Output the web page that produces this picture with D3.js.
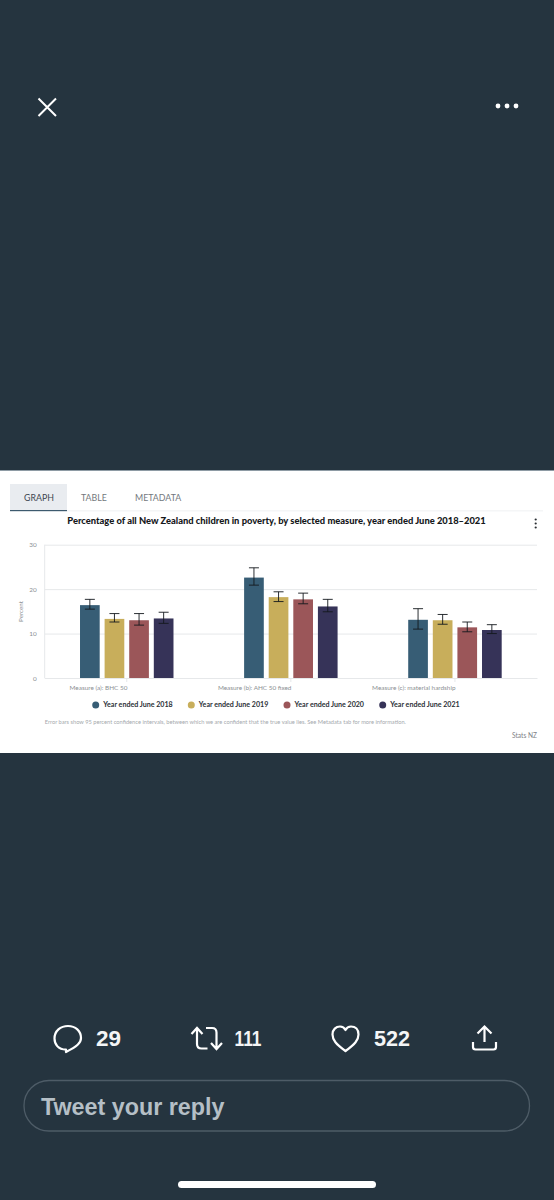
<!DOCTYPE html>
<html>
<head>
<meta charset="utf-8">
<script src="https://cdn.jsdelivr.net/npm/d3@7"></script>
<style>
  body { margin: 0; background: #25343f; }
  svg { display: block; }
  text { font-family: Lato, "Open Sans", sans-serif; }
  .ui text, text.ui { font-family: "Liberation Sans", Arial, sans-serif; font-weight: bold; }
  .axis path, .axis line { stroke: #e6e8ea; }
  .axis text { fill: #8b8f93; font-size: 6.4px; }
</style>
</head>
<body>
<svg width="554" height="1200"></svg>
<script>
// chart data
var measures = ["Measure (a): BHC 50", "Measure (b): AHC 50 fixed", "Measure (c): material hardship"];
var years = ["Year ended June 2018", "Year ended June 2019", "Year ended June 2020", "Year ended June 2021"];
var yearColours = ["#375d75", "#c8ae5b", "#9b5659", "#363358"];
var yTicks = [0, 10, 20, 30];

// one array per year, in the same order as measures
var values2018 = [16.4, 22.6, 13.1];
var values2019 = [13.3, 18.2, 13.0];
var values2020 = [13.0, 17.7, 11.4];
var values2021 = [13.4, 16.1, 10.8];
var low2018 = [15.5, 20.9, 11.0];
var low2019 = [12.6, 17.2, 12.1];
var low2020 = [11.9, 16.7, 10.4];
var low2021 = [12.3, 14.9, 10.0];
var high2018 = [17.7, 24.8, 15.6];
var high2019 = [14.5, 19.4, 14.3];
var high2020 = [14.5, 19.1, 12.6];
var high2021 = [14.8, 17.7, 12.0];

var values = [values2018, values2019, values2020, values2021];
var lows = [low2018, low2019, low2020, low2021];
var highs = [high2018, high2019, high2020, high2021];

var svg = d3.select("svg");

// white panel holding the screenshot of the graph
svg.append("rect").attr("x", 0).attr("y", 470).attr("width", 554).attr("height", 283).attr("fill", "#fff");
svg.append("rect").attr("x", 0).attr("y", 470).attr("width", 554).attr("height", 1).attr("fill", "#8e9ba4");

// tabs
svg.append("rect").attr("x", 10).attr("y", 484).attr("width", 57).attr("height", 26).attr("fill", "#e9ecf0");
svg.append("rect").attr("x", 10).attr("y", 510).attr("width", 57).attr("height", 1.2).attr("fill", "#3d5a6e");
svg.append("rect").attr("x", 67).attr("y", 510.5).attr("width", 476).attr("height", 0.8).attr("fill", "#eceef0");
var tabs = [["GRAPH", 24, "#3c4650"], ["TABLE", 81, "#73787d"], ["METADATA", 135, "#73787d"]];
svg.selectAll(".tab").data(tabs).enter().append("text")
  .attr("class", "tab")
  .attr("x", function(d) { return d[1]; })
  .attr("y", 500.5)
  .attr("font-size", 8.8)
  .attr("fill", function(d) { return d[2]; })
  .text(function(d) { return d[0]; });

svg.append("text")
  .attr("x", 276.5).attr("y", 524)
  .attr("text-anchor", "middle")
  .attr("font-size", 9.35).attr("font-weight", 900).attr("fill", "#15181b")
  .text("Percentage of all New Zealand children in poverty, by selected measure, year ended June 2018\u20132021");

// kebab menu
svg.selectAll(".kebab").data([519.5, 523.5, 527.5]).enter().append("circle")
  .attr("class", "kebab").attr("cx", 535.7).attr("cy", function(d) { return d; }).attr("r", 1.1).attr("fill", "#2a2e33");

// scales
var x0 = d3.scaleBand().domain(measures).range([44.7, 537]);
var x1 = d3.scaleBand().domain(d3.range(years.length)).range([-49.2, 49.2]).paddingInner(0.2).paddingOuter(0.1);
var y = d3.scaleLinear().domain([0, 30]).range([678, 544.7]);

// axes
var yAxis = d3.axisLeft(y).tickValues(yTicks).tickSize(-(537 - 44.7)).tickPadding(8);
var gy = svg.append("g").attr("class", "axis").attr("transform", "translate(44.7,0)").call(yAxis);
gy.select(".domain").remove();
gy.selectAll(".tick line").attr("stroke", "#eef0f1");
svg.append("line").attr("x1", 44.7).attr("x2", 44.7).attr("y1", 544.7).attr("y2", 678).attr("stroke", "#e6e8ea");

var xAxis = d3.axisBottom(x0).tickSize(4).tickSizeOuter(0).tickPadding(3);
var gx = svg.append("g").attr("class", "axis").attr("transform", "translate(0,678)").call(xAxis);
gx.selectAll("text").attr("text-anchor", "end").attr("dx", "0.6");

svg.append("text")
  .attr("transform", "translate(22.5,611.5) rotate(-90)")
  .attr("text-anchor", "middle").attr("font-size", 6.2).attr("fill", "#8b8f93")
  .text("Percent");

// bars and error bars, one group per measure
var groups = svg.selectAll(".group").data(measures).enter().append("g")
  .attr("class", "group")
  .attr("transform", function(d) { return "translate(" + (x0(d) + x0.bandwidth() / 2) + ",0)"; });

years.forEach(function(year, yi) {
  groups.append("rect")
    .attr("x", x1(yi))
    .attr("width", x1.bandwidth())
    .attr("y", function(d, i) { return y(values[yi][i]); })
    .attr("height", function(d, i) { return y(0) - y(values[yi][i]); })
    .attr("fill", yearColours[yi]);

  var cx = x1(yi) + x1.bandwidth() / 2;
  groups.append("path")
    .attr("fill", "none")
    .attr("stroke", "#14181d")
    .attr("stroke-width", 0.9)
    .attr("d", function(d, i) {
      var lo = y(lows[yi][i]), hi = y(highs[yi][i]);
      return "M" + (cx - 5) + "," + hi + "H" + (cx + 5) + "M" + cx + "," + hi + "V" + lo + "M" + (cx - 5) + "," + lo + "H" + (cx + 5);
    });
});

// legend
var legendX = [95.7, 191.3, 287, 382.7];
var legend = svg.selectAll(".legend").data(years).enter().append("g")
  .attr("class", "legend")
  .attr("transform", function(d, i) { return "translate(" + legendX[i] + ",705)"; });
legend.append("circle").attr("r", 3.5).attr("fill", function(d, i) { return yearColours[i]; });
legend.append("text")
  .attr("x", 7.5).attr("y", 2.4)
  .attr("font-size", 7.1).attr("font-weight", 700).attr("fill", "#2b3036")
  .text(function(d) { return d; });

svg.append("text")
  .attr("x", 44.7).attr("y", 724)
  .attr("font-size", 5.7).attr("fill", "#a5a9ad")
  .text("Error bars show 95 percent confidence intervals, between which we are confident that the true value lies. See Metadata tab for more information.");
svg.append("text")
  .attr("x", 537).attr("y", 737.5)
  .attr("text-anchor", "end")
  .attr("font-size", 6.6).attr("fill", "#7d8185")
  .text("Stats NZ");

// phone ui around the graph
var ui = svg.append("g").attr("class", "ui");
var white = "#fff";
ui.append("path").attr("d", "M38.5,98.5L56,116M56,98.5L38.5,116")
  .attr("stroke", white).attr("stroke-width", 2).attr("fill", "none");
ui.selectAll(".dot").data([498, 507, 516]).enter().append("circle")
  .attr("class", "dot").attr("cx", function(d) { return d; }).attr("cy", 106).attr("r", 2.4).attr("fill", white);

// reply
ui.append("path")
  .attr("d", "M66,1052 L66,1049.6 C58,1049.6 54.5,1044 54.5,1038.5 C54.5,1031 60.5,1026 68,1026 C75.5,1026 81,1031 81,1038 C81,1043 77,1046.5 66,1052 Z")
  .attr("fill", "none").attr("stroke", white).attr("stroke-width", 2.2).attr("stroke-linejoin", "round");
// retweet
ui.append("path")
  .attr("d", "M191.5,1034 L197,1028 L202.5,1034 M197,1028 V1044 Q197,1048.5 201.5,1048.5 H207.5 M206,1028 H212 Q216.5,1028 216.5,1032.5 V1049 M211,1043 L216.5,1049 L222,1043")
  .attr("fill", "none").attr("stroke", white).attr("stroke-width", 2.2);
// like
ui.append("path")
  .attr("d", "M345.5,1051 C336,1044 332.5,1040 332.5,1034.5 C332.5,1029.5 336,1026.5 340,1026.5 C342.5,1026.5 344.5,1028 345.5,1030 C346.5,1028 348.5,1026.5 351,1026.5 C355.5,1026.5 358.5,1029.5 358.5,1034.5 C358.5,1040 355,1044 345.5,1051 Z")
  .attr("fill", "none").attr("stroke", white).attr("stroke-width", 2.2).attr("stroke-linejoin", "round");
// share
ui.append("path")
  .attr("d", "M484.5,1042 V1027 M477.5,1033.5 L484.5,1026.5 L491.5,1033.5 M473,1042 V1047 Q473,1049.5 475.5,1049.5 H493.5 Q496,1049.5 496,1047 V1042")
  .attr("fill", "none").attr("stroke", white).attr("stroke-width", 2.2);

var counts = [["29", 96, 25], ["111", 234.5, 27], ["522", 374, 36]];
ui.selectAll(".count").data(counts).enter().append("text")
  .attr("class", "count")
  .attr("x", function(d) { return d[1]; })
  .attr("y", 1045.5)
  .attr("font-size", 21.5).attr("fill", "#f4f5f6")
  .attr("textLength", function(d) { return d[2]; })
  .attr("lengthAdjust", "spacingAndGlyphs")
  .text(function(d) { return d[0]; });

ui.append("rect").attr("x", 24).attr("y", 1080.5).attr("width", 505.5).attr("height", 50.5).attr("rx", 25)
  .attr("fill", "none").attr("stroke", "#4e5c67").attr("stroke-width", 1.3);
ui.append("text").attr("x", 41).attr("y", 1114.5).attr("font-size", 23.3).attr("fill", "#b5bfc6").text("Tweet your reply");
ui.append("rect").attr("x", 178).attr("y", 1181).attr("width", 198).attr("height", 7).attr("rx", 3.5).attr("fill", white);
</script>
</body>
</html>
